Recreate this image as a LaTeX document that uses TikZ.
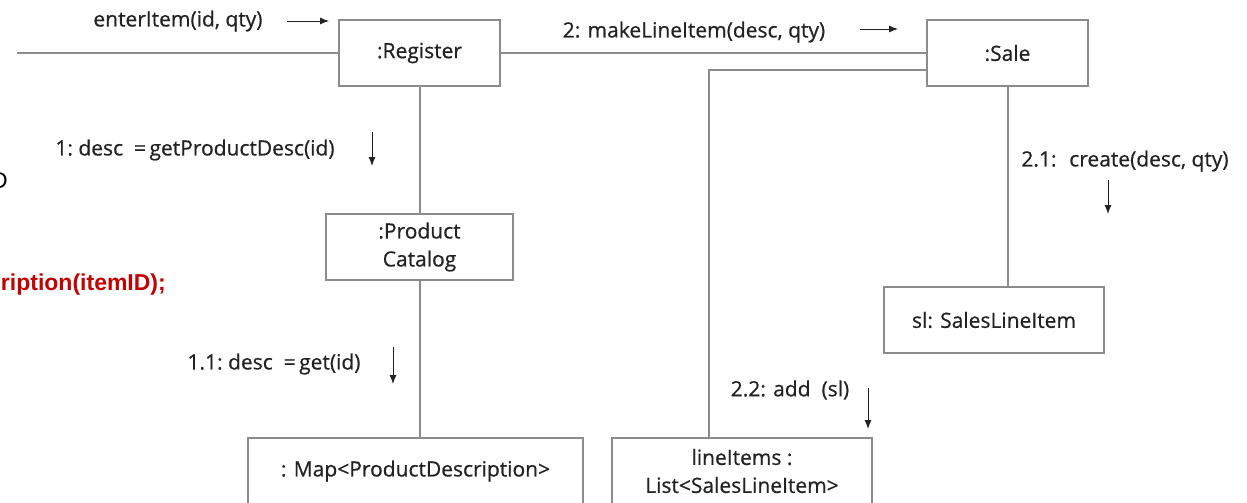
\documentclass[tikz,border=0pt]{standalone}
\usepackage{fontspec}
\setmainfont[FakeBold=0.6]{Open Sans}
\newfontfamily\arialfont{Liberation Sans}
\usetikzlibrary{arrows.meta}
\definecolor{linegray}{HTML}{8C8C8C}
\definecolor{txtgray}{HTML}{222222}
\definecolor{codered}{HTML}{C00000}
\tikzset{
  obj/.style={draw=linegray, line width=2pt, fill=white, align=center, text=txtgray,
    font=\fontsize{21}{28}\selectfont, inner sep=0pt},
  link/.style={draw=linegray, line width=2pt},
  lbl/.style={text=txtgray, font=\fontsize{21}{24}\selectfont, inner sep=0pt},
  msg/.style={draw=txtgray, line width=0.9pt, -{Latex[length=9pt,width=7pt]}},
}
\begin{document}
\begin{tikzpicture}[x=1pt,y=-1pt]
\useasboundingbox (0,0) rectangle (1247,503);
\clip (0,0) rectangle (1247,503);
% objects
\node[obj, minimum width=161pt, minimum height=66pt] (reg) at (419.5,53) {:Register};
\node[obj, minimum width=161pt, minimum height=66pt] (sale) at (1007.5,53) {:Sale};
\node[obj, minimum width=187pt, minimum height=66pt] (pc) at (419.5,247) {:Product\\Catalog};
\node[obj, minimum width=220pt, minimum height=66pt] (sl) at (994,320) {sl: SalesLineItem};
\node[obj, minimum width=335pt, minimum height=66pt] (map) at (415.5,471) {: Map<ProductDescription>};
\node[obj, minimum width=260pt, minimum height=66pt] (li) at (742,471) {lineItems :\\List<SalesLineItem>};
% links
\coordinate (start) at (17,53);
\coordinate (bend) at (709,70);
\draw[link] (start) -- (reg.west);
\draw[link] (reg.east) -- (sale.west);
\draw[link] (sale.west |- bend) -- (bend) -- (bend |- li.north);
\draw[link] (reg.south) -- (pc.north);
\draw[link] (pc.south) -- (pc.south |- map.north);
\draw[link] (sale.south) -- (sale.south |- sl.north);
% messages
\node[lbl] (m0) at (178,21) {enterItem(id, qty)};
\coordinate (a0s) at (287,21); \coordinate (a0e) at (329,21);
\draw[msg] (a0s) -- (a0e);
\node[lbl] (m2) at (694,32) {2: makeLineItem(desc, qty)};
\coordinate (a2s) at (860,29); \coordinate (a2e) at (898,29);
\draw[msg] (a2s) -- (a2e);
\node[lbl] (m1) at (195,150) {1:~desc~~=\,getProductDesc(id)};
\coordinate (a1s) at (372,132); \coordinate (a1e) at (372,166);
\draw[msg] (a1s) -- (a1e);
\node[lbl] (m21) at (1125,161) {2.1:~ create(desc, qty)};
\coordinate (a21s) at (1108,180); \coordinate (a21e) at (1108,214);
\draw[msg] (a21s) -- (a21e);
\node[lbl] (m11) at (274,364) {1.1:~desc~~=\,get(id)};
\coordinate (a11s) at (393,347); \coordinate (a11e) at (393,384);
\draw[msg] (a11s) -- (a11e);
\node[lbl] (m22) at (790,390) {2.2: add~~(sl)};
\coordinate (a22s) at (868,388); \coordinate (a22e) at (868,429);
\draw[msg] (a22s) -- (a22e);
% cropped page remnants
\node[anchor=east, inner sep=0pt, font=\arialfont\fontsize{23}{27}\selectfont] (frag1) at (8,181) {D};
\node[anchor=east, inner sep=0pt, text=codered, font=\arialfont\bfseries\fontsize{23}{27}\selectfont] (frag2) at (166,285) {ription(itemID);};
\end{tikzpicture}
\end{document}
